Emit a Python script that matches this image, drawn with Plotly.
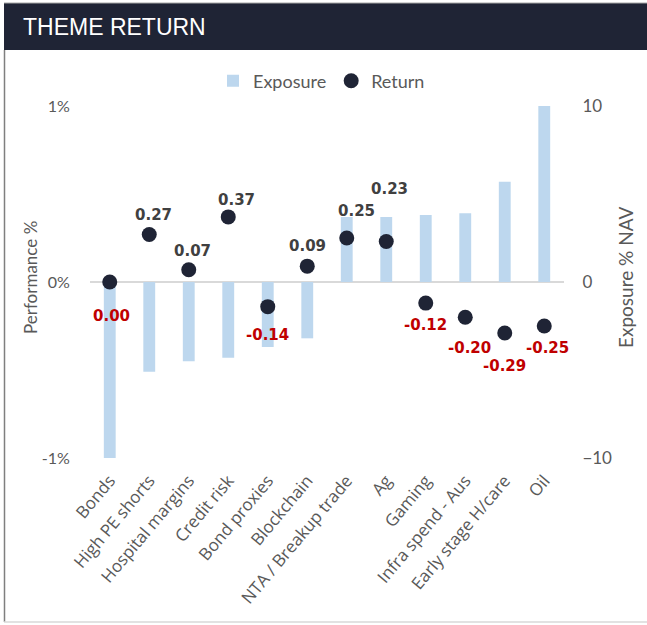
import plotly.graph_objects as go

W, H = 647, 625

categories = ["Bonds", "High PE shorts", "Hospital margins", "Credit risk", "Bond proxies",
              "Blockchain", "NTA / Breakup trade", "Ag", "Gaming", "Infra spend - Aus",
              "Early stage H/care", "Oil"]
exposure = [-10.0, -5.1, -4.5, -4.3, -3.7, -3.2, 3.7, 3.7, 3.8, 3.9, 5.7, 10.0]
returns = [0.00, 0.27, 0.07, 0.37, -0.14, 0.09, 0.25, 0.23, -0.12, -0.20, -0.29, -0.25]

# label nudges (pixels) to mimic the hand-placed Excel labels
label_dy = [-34, 19, 19, 17, -28, 20, 27, 53, -22, -31, -33, -22]
label_dx = [2, 4, 4, 8, 0, 0, 10, 3, 0, 4, 0, 3]

NAVY = "#1f2435"
BAR = "#bdd7ee"
GREY = "#595959"
RED = "#c00000"
FONT = "Lato, sans-serif"

# plot area in pixels
L, R, T, B = 90, 564, 106, 458


def px(x):
    return (x - L) / (R - L)


def py(y):
    return (B - y) / (B - T)


fig = go.Figure()
fig.add_trace(go.Bar(
    x=categories, y=exposure, name="Exposure", yaxis="y",
    marker=dict(color=BAR, line_width=0), width=0.3,
))
fig.add_trace(go.Scatter(
    x=categories, y=returns, name="Return", yaxis="y2", mode="markers",
    marker=dict(color=NAVY, size=15),
))

for cat, val, dy, dx in zip(categories, returns, label_dy, label_dx):
    fig.add_annotation(
        x=cat, y=val, xref="x", yref="y2", text="<b>%.2f</b>" % val,
        showarrow=False, yshift=dy, xshift=dx,
        font=dict(family="DejaVu Sans, sans-serif", size=15, color=RED if val <= 0 else "#404040"),
    )

# header band + frame
fig.add_shape(type="rect", xref="paper", yref="paper", x0=px(4), x1=px(W), y0=py(50), y1=py(3),
              fillcolor=NAVY, line_width=0, layer="below")
fig.add_shape(type="line", xref="paper", yref="paper", x0=px(4), x1=px(W), y0=py(3), y1=py(3),
              line=dict(color="#a6a6a6", width=1))
fig.add_shape(type="line", xref="paper", yref="paper", x0=px(4.5), x1=px(4.5), y0=py(50), y1=py(622),
              line=dict(color="#7f7f7f", width=1.5))
fig.add_shape(type="line", xref="paper", yref="paper", x0=px(4), x1=px(W), y0=py(622), y1=py(622),
              line=dict(color="#d9d9d9", width=1.5))
fig.add_annotation(xref="paper", yref="paper", x=px(21), y=py(27), xanchor="left", yanchor="middle",
                   text="THEME RETURN", showarrow=False,
                   font=dict(family="Liberation Sans, sans-serif", size=23, color="white"))

# axis titles
fig.add_annotation(xref="paper", yref="paper", x=px(30), y=py(277), xanchor="center", yanchor="middle",
                   text="Performance %", textangle=-90, showarrow=False,
                   font=dict(family=FONT, size=17, color=GREY))
fig.add_annotation(xref="paper", yref="paper", x=px(625), y=py(277), xanchor="center", yanchor="middle",
                   text="Exposure % NAV", textangle=-90, showarrow=False,
                   font=dict(family=FONT, size=19, color=GREY))

fig.update_layout(
    width=W, height=H, autosize=False,
    margin=dict(l=L, r=W - R, t=T, b=H - B, pad=0),
    paper_bgcolor="white", plot_bgcolor="white",
    font=dict(family=FONT, color=GREY, size=15),
    showlegend=True,
    legend=dict(orientation="h", x=px(213), y=py(81), xanchor="left", yanchor="middle",
                font=dict(size=18, color=GREY), bgcolor="rgba(0,0,0,0)", itemwidth=30,
                tracegroupgap=0),
    bargap=0.7,
    xaxis=dict(range=[-0.5, len(categories) - 0.5], tickangle=-50, showgrid=False, showline=False,
               ticks="outside", ticklen=5, tickcolor="rgba(0,0,0,0)",
               tickfont=dict(family="Open Sans, sans-serif", size=17, color=GREY), automargin=False),
    yaxis=dict(side="right", range=[-10, 10], tickvals=[-10, 0, 10], showgrid=False,
               zeroline=True, zerolinecolor="#d9d9d9", zerolinewidth=2,
               ticks="outside", ticklen=14, tickcolor="rgba(0,0,0,0)",
               tickfont=dict(size=17, color=GREY), automargin=False),
    yaxis2=dict(side="left", overlaying="y", range=[-1, 1], tickvals=[-1, 0, 1],
                ticktext=["-1%", "0%", "1%"], showgrid=False, zeroline=False,
                ticks="outside", ticklen=16, tickcolor="rgba(0,0,0,0)",
                tickfont=dict(size=16, color=GREY), automargin=False),
)

fig.write_html("out.html", config={"displayModeBar": False},
               post_script="document.body.style.margin='0';document.body.style.overflow='hidden';")
